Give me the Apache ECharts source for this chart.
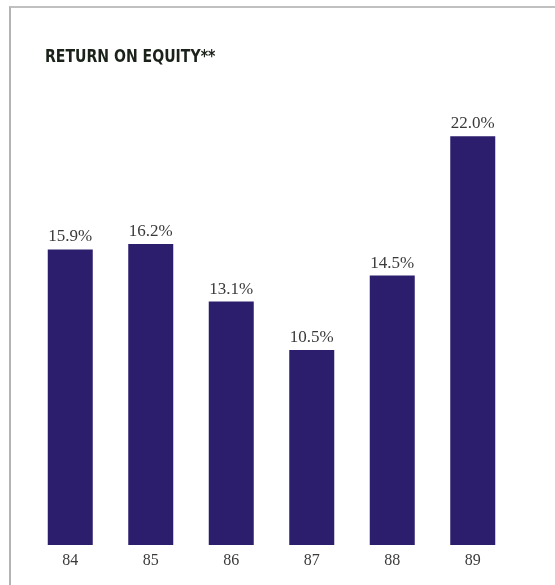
<!DOCTYPE html>
<html>
<head>
<meta charset="utf-8">
<script src="https://cdn.jsdelivr.net/npm/echarts@6/dist/echarts.min.js"></script>
<style>
  html, body { margin: 0; padding: 0; background: #fff; overflow: hidden; }
  #frame {
    position: absolute; left: 9px; top: 6px; width: 560px; height: 600px;
    border-left: 2px solid #b4b4b4; border-top: 2px solid #c0c0c0;
  }
  #charts { position: absolute; left: 0; top: 0; width: 555px; height: 585px; }
</style>
</head>
<body>
<div id="frame"></div>
<div id="charts"></div>
<script>
// data
const years = ['84', '85', '86', '87', '88', '89'];
const roe = [15.9, 16.2, 13.1, 10.5, 14.5, 22.0];
const titleText = 'RETURN ON EQUITY**';

var chartDom = document.getElementById('charts');
var myChart = echarts.init(chartDom);
var option = {
    animation: false,
    graphic: [{
        type: 'text',
        left: 45,
        top: 49,
        scaleX: 0.92,
        style: {
            text: titleText,
            fontFamily: '"DejaVu Sans Condensed", "Liberation Sans Narrow", sans-serif',
            fontWeight: 'bold',
            fontSize: 17,
            fill: '#1a221a'
        }
    }],
    grid: {
        left: 30,
        right: 42,
        top: 99,
        bottom: 40
    },
    xAxis: {
        type: 'category',
        data: years,
        axisLine: {show: false},
        axisTick: {show: false},
        axisLabel: {
            margin: 8,
            fontFamily: '"Liberation Serif", serif',
            fontSize: 16,
            color: '#3a3a3a'
        }
    },
    yAxis: {
        type: 'value',
        min: 0,
        max: 24,
        show: false,
        splitLine: {show: false}
    },
    series: [{
        type: 'bar',
        data: roe,
        barWidth: 45,
        itemStyle: {color: '#2c1e6c'},
        label: {
            show: true,
            position: 'top',
            distance: 4,
            formatter: p => p.value.toFixed(1) + '%',
            fontFamily: '"Liberation Serif", serif',
            fontSize: 17,
            color: '#3a3a3a'
        }
    }]
};
myChart.setOption(option);
</script>
</body>
</html>
